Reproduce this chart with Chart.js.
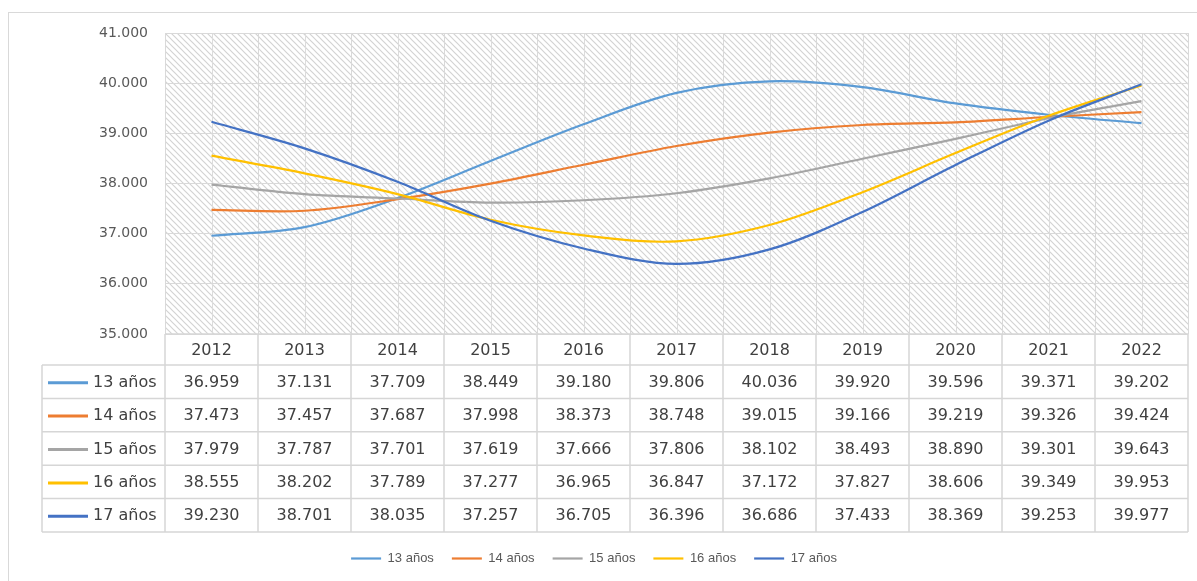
<!DOCTYPE html>
<html>
<head>
<meta charset="utf-8">
<script src="https://cdn.jsdelivr.net/npm/chart.js@4/dist/chart.umd.min.js"></script>
<style>
  body { margin: 0; background: #fff; }
  canvas { display: block; }
</style>
</head>
<body>
<canvas id="grafico" width="1197" height="581"></canvas>
<script>
const years = ['2012', '2013', '2014', '2015', '2016', '2017', '2018', '2019', '2020', '2021', '2022']
const edad13 = [36959, 37131, 37709, 38449, 39180, 39806, 40036, 39920, 39596, 39371, 39202]
const edad14 = [37473, 37457, 37687, 37998, 38373, 38748, 39015, 39166, 39219, 39326, 39424]
const edad15 = [37979, 37787, 37701, 37619, 37666, 37806, 38102, 38493, 38890, 39301, 39643]
const edad16 = [38555, 38202, 37789, 37277, 36965, 36847, 37172, 37827, 38606, 39349, 39953]
const edad17 = [39230, 38701, 38035, 37257, 36705, 36396, 36686, 37433, 38369, 39253, 39977]
const seriesNames = ['13 años', '14 años', '15 años', '16 años', '17 años']
const seriesValues = [edad13, edad14, edad15, edad16, edad17]
const seriesColors = ['#5B9BD5', '#ED7D31', '#A5A5A5', '#FFC000', '#4472C4']

const fmt = v => (v / 1000).toFixed(3) // 41000 -> "41.000"

// pattern of diagonal hatch for the plot area
function makeHatch(ctx) {
    const c = document.createElement('canvas')
    c.width = 6; c.height = 6
    const p = c.getContext('2d')
    p.fillStyle = '#fff'
    p.fillRect(0, 0, 6, 6)
    p.strokeStyle = '#d3d3d3'
    p.lineWidth = 1.2
    p.beginPath()
    p.moveTo(-1, -1); p.lineTo(7, 7)
    p.moveTo(-1, 5); p.lineTo(1, 7)
    p.moveTo(5, -1); p.lineTo(7, 1)
    p.stroke()
    return ctx.createPattern(c, 'repeat')
}

const fondo = {
    id: 'fondo',
    beforeDraw(chart) {
        const ctx = chart.ctx
        const a = chart.chartArea
        const x = chart.scales.x
        ctx.save()
        ctx.fillStyle = '#fff'
        ctx.fillRect(0, 0, chart.width, chart.height)
        ctx.strokeStyle = '#d9d9d9'
        ctx.lineWidth = 1
        ctx.strokeRect(8.5, 12.5, 1400, 800)
        ctx.fillStyle = makeHatch(ctx)
        ctx.fillRect(a.left, a.top, a.right - a.left, a.bottom - a.top)
        // minor vertical gridlines at each year
        ctx.strokeStyle = '#dcdcdc'
        ctx.beginPath()
        years.forEach((yr, i) => {
            const xx = Math.round(x.getPixelForValue(i)) + 0.5
            ctx.moveTo(xx, a.top); ctx.lineTo(xx, a.bottom)
        })
        ctx.stroke()
        ctx.restore()
    }
}

// data table under the plot (like excel)
const tabla = {
    id: 'tabla',
    afterDraw(chart) {
        const ctx = chart.ctx
        const x = chart.scales.x
        const a = chart.chartArea
        const colW = (a.right - a.left) / years.length
        const top = a.bottom
        const headerH = 31
        const rowH = 33.4
        const labelLeft = 42
        const bottom = top + headerH + rowH * seriesNames.length
        ctx.save()
        ctx.strokeStyle = '#d6d6d6'
        ctx.lineWidth = 1.5
        ctx.beginPath()
        // horizontal lines
        ctx.moveTo(a.left, top); ctx.lineTo(a.right, top)
        for (let r = 0; r <= seriesNames.length; r++) {
            const y = top + headerH + r * rowH
            ctx.moveTo(labelLeft, y); ctx.lineTo(a.right, y)
        }
        // vertical lines
        ctx.moveTo(labelLeft, top + headerH); ctx.lineTo(labelLeft, bottom)
        for (let i = 0; i <= years.length; i++) {
            const xx = a.left + i * colW
            ctx.moveTo(xx, top); ctx.lineTo(xx, bottom)
        }
        ctx.stroke()

        ctx.font = '16px "DejaVu Sans"'
        ctx.fillStyle = '#404040'
        ctx.textAlign = 'center'
        ctx.textBaseline = 'middle'
        years.forEach((yr, i) => {
            ctx.fillText(yr, x.getPixelForValue(i), top + headerH / 2 + 1)
        })
        seriesValues.forEach((vals, r) => {
            const cy = top + headerH + r * rowH + rowH / 2 + 1
            vals.forEach((v, i) => {
                ctx.fillText(fmt(v), x.getPixelForValue(i), cy)
            })
            // legend key in the row label
            ctx.strokeStyle = seriesColors[r]
            ctx.lineWidth = 3
            ctx.beginPath()
            ctx.moveTo(48, cy); ctx.lineTo(88, cy)
            ctx.stroke()
            ctx.textAlign = 'left'
            ctx.fillText(seriesNames[r], 93, cy)
            ctx.textAlign = 'center'
        })
        ctx.restore()
    }
}

const datasets = seriesNames.map((name, i) => ({
    label: name,
    data: seriesValues[i],
    borderColor: seriesColors[i],
    backgroundColor: seriesColors[i],
    borderWidth: 2.2,
    pointRadius: 0,
    tension: 0.33,
    fill: false,
    order: seriesNames.length - i //last series on top like excel
}))

new Chart(document.getElementById('grafico').getContext('2d'), {
    type: 'line',
    data: { labels: years, datasets: datasets },
    options: {
        responsive: false,
        animation: false,
        devicePixelRatio: 1,
        layout: { padding: { top: 33, right: 9, left: 0, bottom: 6 } },
        scales: {
            x: {
                offset: true,
                grid: { offset: true, color: '#d9d9d9', drawTicks: false },
                border: { display: false },
                ticks: { display: false },
                afterFit: scale => { scale.height = 200 }
            },
            y: {
                min: 35000,
                max: 41000,
                grid: { color: '#d9d9d9', drawTicks: false },
                border: { display: false },
                ticks: {
                    stepSize: 1000,
                    padding: 17,
                    color: '#595959',
                    font: { family: 'DejaVu Sans', size: 14 },
                    callback: v => fmt(v)
                },
                afterFit: scale => { scale.width = 165 }
            }
        },
        plugins: {
            legend: {
                position: 'bottom',
                labels: {
                    usePointStyle: true,
                    pointStyle: 'line',
                    pointStyleWidth: 30,
                    padding: 18,
                    color: '#595959',
                    font: { family: 'Liberation Sans', size: 13 },
                    sort: (a, b) => a.datasetIndex - b.datasetIndex
                }
            },
            tooltip: { enabled: false }
        }
    },
    plugins: [fondo, tabla]
})
</script>
</body>
</html>
